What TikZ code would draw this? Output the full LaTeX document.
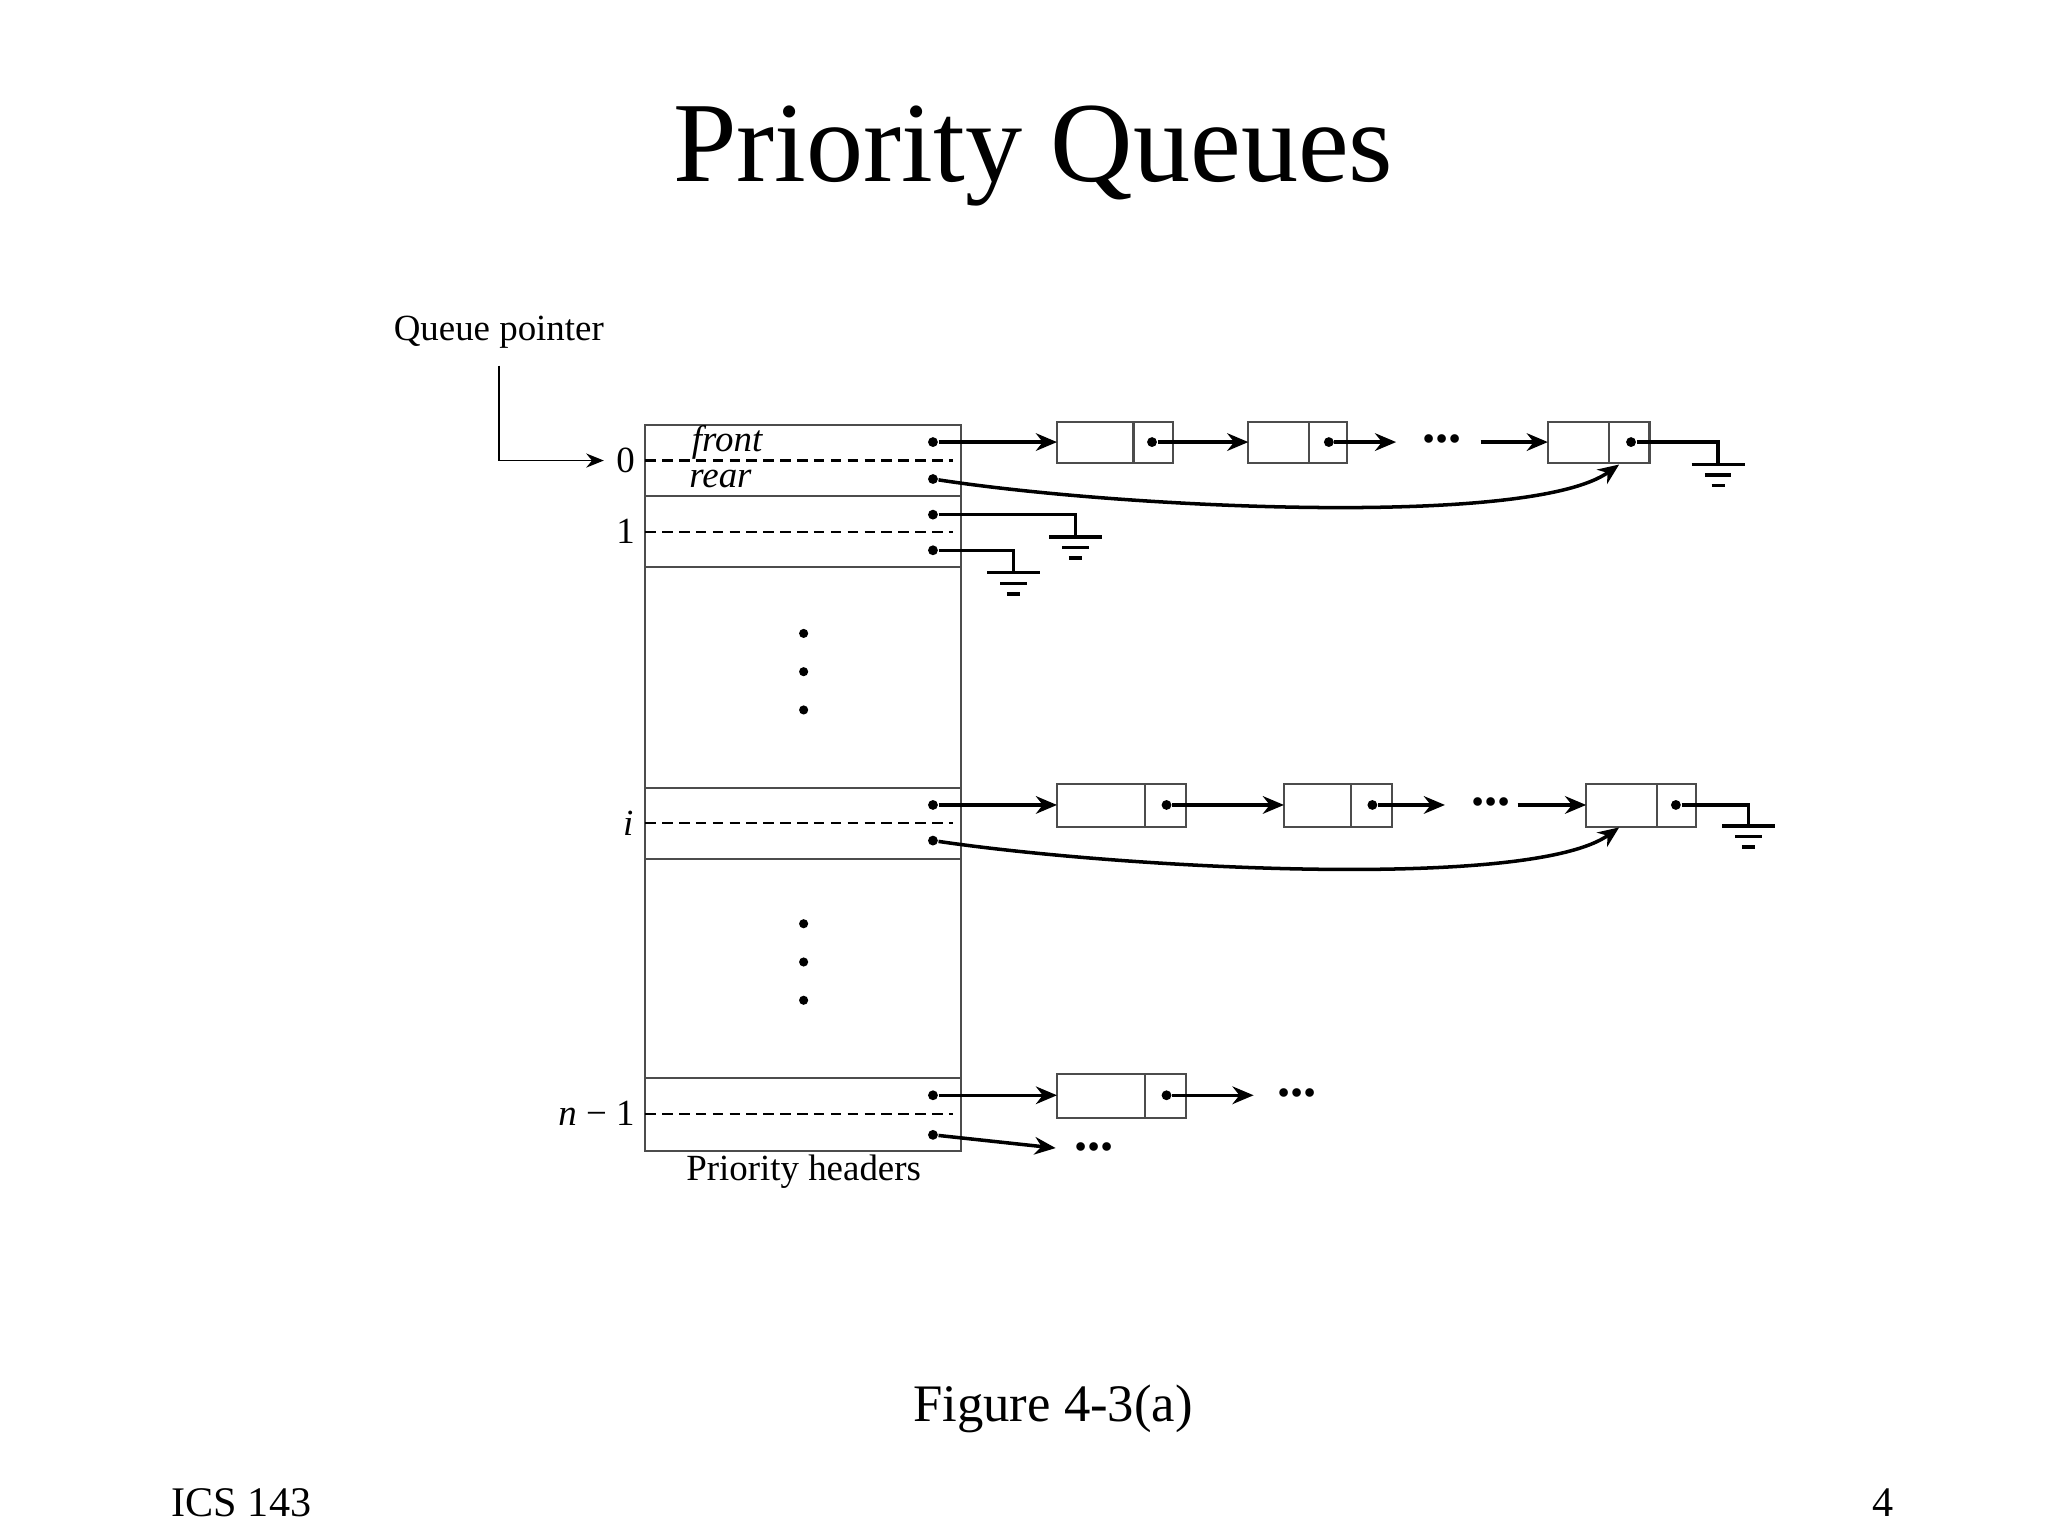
\documentclass[tikz,border=0pt]{standalone}
\usepackage{fontspec}
\setmainfont{Liberation Serif}
\usetikzlibrary{arrows.meta}
\begin{document}
\begin{tikzpicture}[x=0.013196cm,y=-0.013196cm,
  ptr/.style={line width=1pt,-{Stealth[length=6pt,width=5pt]}},
  pl/.style={line width=1pt},
  dot/.style={circle,fill,inner sep=0pt,minimum size=2.8pt},
  cell/.style={draw=black!70,line width=0.6pt},
  dsh/.style={line width=0.6pt,dash pattern=on 3pt off 1.8pt},
  lbl/.style={font=\fontsize{10.5}{12}\selectfont},
  dots/.style={font=\bfseries\fontsize{15}{15}\selectfont,inner sep=0pt}]
\useasboundingbox (0,0) rectangle (1552,1164);
\node (title) at (783,118) {\fontsize{32.5}{36}\selectfont Priority Queues};
\node (fig) at (798,1068) {\fontsize{15}{18}\selectfont Figure 4-3(a)};
\node (ics) at (183,1139) {\fontsize{12}{14}\selectfont ICS 143};
\node (pg) at (1427,1139) {\fontsize{12}{14}\selectfont 4};
% header box
\draw[cell] (489,322) rectangle (728,872);
\foreach \y in {376,430,597,651,817} \draw[cell] (489,\y) -- (728,\y);
\foreach \y in {349,403,624,844} \draw[dsh] (489,\y) -- (722,\y);
\foreach \y in {480,509,538,700,729,758} \fill (609,\y) circle (1.3pt);
\node[lbl] (l0) at (474,349) {0};
\node[lbl] (l1) at (474,403) {1};
\node[lbl] (li) at (476,624) {\itshape i};
\node[lbl] (ln) at (452,844) {\itshape n\normalfont{} − 1};
\node[lbl] (front) at (551,335) {\itshape front};
\node[lbl] (rear) at (546,363) {\itshape rear};
\node[lbl] (qp) at (378,252) {Queue pointer};
\node[lbl] (ph) at (609,888) {Priority headers};
\coordinate (qa) at (378,277);
\coordinate (qb) at (378,349);
\draw[line width=0.5pt,-{Stealth[length=5pt,width=4pt]}] (qa) -- (qb) -- (l0.west);
% pointer dots
\foreach \n/\y in {f0/335,r0/363,a1/390,b1/417,fi/610,ri/637,fn/830,rn/860}
  \node[dot] (\n) at (707,\y) {};
% row 0 boxes
\draw[cell] (801,320) rectangle (889,351) (859,320)--(859,351);
\draw[cell] (946,320) rectangle (1021,351) (992,320)--(992,351);
\draw[cell] (1173,320) rectangle (1250,351) (1219,320)--(1219,351);
\coordinate (b01) at (801,335); \coordinate (b02) at (946,335); \coordinate (b03) at (1173,335);
\node[dot] (d01) at (873,335) {}; \node[dot] (d02) at (1007,335) {}; \node[dot] (d03) at (1236,335) {};
\coordinate (e02) at (1058,335); \coordinate (s03) at (1122,335);
\node[dots] (dd0) at (1093,333) {...};
\draw[ptr] (f0) -- (b01); \draw[ptr] (d01) -- (b02); \draw[ptr] (d02) -- (e02); \draw[ptr] (s03) -- (b03);
\coordinate (g0) at (1302,352);
\draw[pl] (d03) -- (1302,335) -- (g0);
\coordinate (rt0) at (1227,352);
\draw[ptr] (r0) .. controls (850,385) and (1160,400) .. (rt0);
% row 1
\coordinate (g1) at (815,407); \coordinate (g2) at (768,434);
\draw[pl] (a1) -- (815,390) -- (g1);
\draw[pl] (b1) -- (768,417) -- (g2);
% grounds
\newcommand\gnd[1]{\draw[line width=1pt] ([shift={(-20,0)}]#1) -- ([shift={(20,0)}]#1) ([shift={(-10,8)}]#1) -- ([shift={(10,8)}]#1) ([shift={(-5,16)}]#1) -- ([shift={(5,16)}]#1);}
\gnd{g0}\gnd{g1}\gnd{g2}
% row i
\draw[cell] (801,594) rectangle (899,627) (868,594)--(868,627);
\draw[cell] (973,594) rectangle (1055,627) (1024,594)--(1024,627);
\draw[cell] (1202,594) rectangle (1285,627) (1256,594)--(1256,627);
\coordinate (bi1) at (801,610); \coordinate (bi2) at (973,610); \coordinate (bi3) at (1202,610);
\node[dot] (di1) at (884,610) {}; \node[dot] (di2) at (1040,610) {}; \node[dot] (di3) at (1270,610) {};
\coordinate (ei2) at (1095,610); \coordinate (si3) at (1150,610);
\node[dots] (ddi) at (1130,608) {...};
\draw[ptr] (fi) -- (bi1); \draw[ptr] (di1) -- (bi2); \draw[ptr] (di2) -- (ei2); \draw[ptr] (si3) -- (bi3);
\coordinate (gi) at (1325,626);
\draw[pl] (di3) -- (1325,610) -- (gi);
\gnd{gi}
\coordinate (rti) at (1227,627);
\draw[ptr] (ri) .. controls (850,658) and (1160,675) .. (rti);
% row n-1
\draw[cell] (801,814) rectangle (899,847) (868,814)--(868,847);
\coordinate (bn1) at (801,830);
\node[dot] (dn1) at (884,830) {};
\coordinate (en1) at (950,830); \coordinate (en2) at (800,870);
\node[dots] (ddn) at (983,828) {...};
\node[dots] (ddr) at (829,869) {...};
\draw[ptr] (fn) -- (bn1); \draw[ptr] (dn1) -- (en1); \draw[ptr] (rn) -- (en2);
\end{tikzpicture}
\end{document}
